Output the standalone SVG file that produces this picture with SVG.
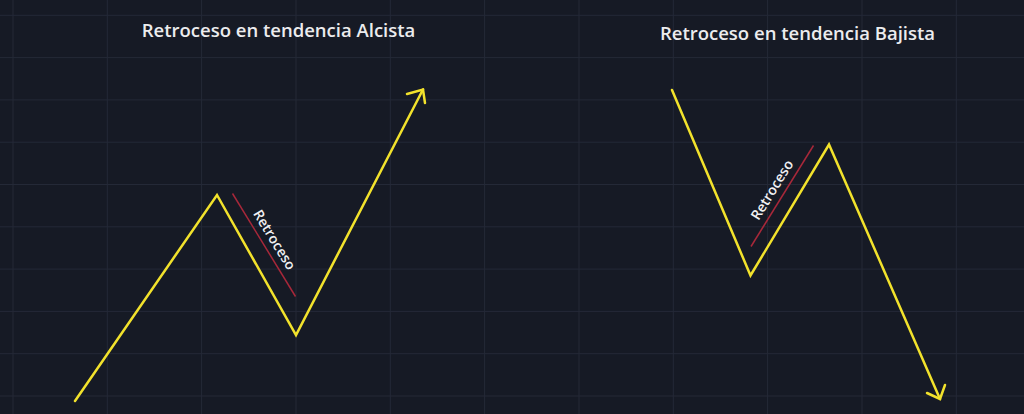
<svg xmlns="http://www.w3.org/2000/svg" width="1024" height="414" viewBox="0 0 1024 414">
<defs>
<style>
.grid line{stroke:#242937;stroke-width:1}
.trend{fill:none;stroke:#f2e22c;stroke-width:2.5;stroke-linejoin:miter;stroke-linecap:round}
.retro{stroke:#a8283a;stroke-width:1.5}
.title{font-family:"Open Sans","DejaVu Sans",sans-serif;font-weight:600;font-size:18.5px;fill:#ececee;text-anchor:middle}
.lbl{font-family:"Open Sans","DejaVu Sans",sans-serif;font-weight:600;font-size:14px;fill:#f0f0f2;text-anchor:middle;dominant-baseline:central}
</style>
</defs>
<rect width="1024" height="414" fill="#161a25"/>
<g class="grid">
<line x1="13" y1="0" x2="13" y2="414"/>
<line x1="107.3" y1="0" x2="107.3" y2="414"/>
<line x1="201.6" y1="0" x2="201.6" y2="414"/>
<line x1="296" y1="0" x2="296" y2="414"/>
<line x1="390.3" y1="0" x2="390.3" y2="414"/>
<line x1="484.6" y1="0" x2="484.6" y2="414"/>
<line x1="579" y1="0" x2="579" y2="414"/>
<line x1="673.3" y1="0" x2="673.3" y2="414"/>
<line x1="767.6" y1="0" x2="767.6" y2="414"/>
<line x1="862" y1="0" x2="862" y2="414"/>
<line x1="956.3" y1="0" x2="956.3" y2="414"/>
<line x1="0" y1="15.3" x2="1024" y2="15.3"/>
<line x1="0" y1="57.6" x2="1024" y2="57.6"/>
<line x1="0" y1="99.9" x2="1024" y2="99.9"/>
<line x1="0" y1="142.2" x2="1024" y2="142.2"/>
<line x1="0" y1="184.5" x2="1024" y2="184.5"/>
<line x1="0" y1="226.8" x2="1024" y2="226.8"/>
<line x1="0" y1="269.1" x2="1024" y2="269.1"/>
<line x1="0" y1="311.4" x2="1024" y2="311.4"/>
<line x1="0" y1="353.7" x2="1024" y2="353.7"/>
<line x1="0" y1="396" x2="1024" y2="396"/>
</g>
<g id="title-alcista"><text class="title" x="278.5" y="37">Retroceso en tendencia Alcista</text></g>
<g id="title-bajista"><text class="title" x="797.5" y="40">Retroceso en tendencia Bajista</text></g>
<g id="connectors">
<polyline class="trend" points="75,401 217,195 296,335 423,89.5"/>
<polyline class="trend" points="407,94 423,89.5 425,103"/>
<polyline class="trend" points="672,90 750.5,275.5 829,144.5 940,399"/>
<polyline class="trend" points="927,393 940,399 945,385"/>
</g>
<g id="retroceso-alcista">
<line class="retro" x1="232.5" y1="193.5" x2="295.5" y2="296.5"/>
<text class="lbl" transform="translate(275,239.5) rotate(58.5)">Retroceso</text>
</g>
<g id="retroceso-bajista">
<line class="retro" x1="751" y1="246.5" x2="813.5" y2="145.5"/>
<text class="lbl" transform="translate(771.5,189.5) rotate(-58.3)">Retroceso</text>
</g>
</svg>
